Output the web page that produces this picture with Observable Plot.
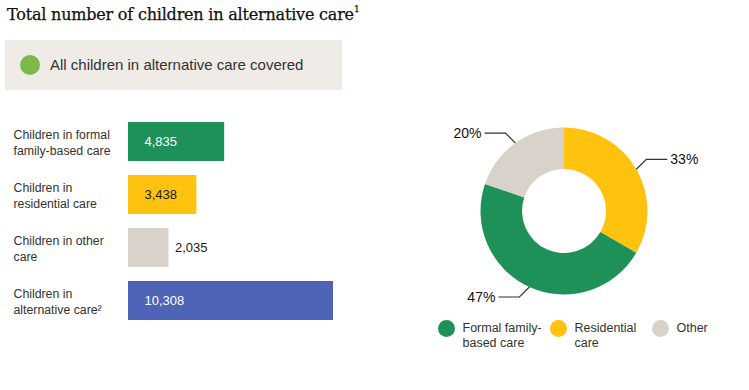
<!DOCTYPE html>
<html><head><meta charset="utf-8">
<script src="https://cdn.jsdelivr.net/npm/d3@7"></script>
<script src="https://cdn.jsdelivr.net/npm/@observablehq/plot@0.6"></script>
<style>
body{margin:0;background:#fff;font-family:"Liberation Sans",Arial,sans-serif;}
#wrap{position:relative;width:749px;height:390px;overflow:hidden;background:#fff;}
#title{position:absolute;left:7px;top:5px;font-family:"DejaVu Serif",serif;font-size:16px;color:#111;white-space:nowrap;letter-spacing:-0.2px;-webkit-text-stroke:0.25px #111;}
#title sup{font-size:9px;vertical-align:top;position:relative;top:-1px;}
#box{position:absolute;left:5px;top:40px;width:337px;height:50px;background:#efebe7;}
#box .dot{position:absolute;left:15px;top:15px;width:20px;height:20px;border-radius:50%;}
#box .txt{position:absolute;left:45px;top:16px;font-size:15px;color:#333;}
#bars{position:absolute;left:0;top:100px;}
#donut{position:absolute;left:390px;top:100px;}
.leg{position:absolute;top:320px;display:flex;align-items:flex-start;font-size:12.5px;line-height:15px;color:#333;}
.leg .d{width:17px;height:17px;border-radius:50%;margin-right:8px;flex:none;}
.leg .t{white-space:pre;margin-top:1px;}
</style></head>
<body>
<div id="wrap">
  <div id="title"></div>
  <div id="box"><div class="dot"></div><div class="txt"></div></div>
  <div id="bars"></div>
  <div id="donut"></div>
  <div id="legend"></div>
</div>
<script>
// ---- data ----
const titleText = "Total number of children in alternative care";
const titleNote = "1";
const coverLabel = "All children in alternative care covered";
const coverColor = "#7cb84a";

const categories = ["Children in formal\nfamily-based care", "Children in\nresidential care", "Children in other\ncare", "Children in\nalternative care²"];
const values = [4835, 3438, 2035, 10308];
const valueLabels = ["4,835", "3,438", "2,035", "10,308"];
const barColors = ["#1e9159", "#ffc20e", "#d9d2ca", "#4f63b6"];
const valueTextColors = ["#ffffff", "#1a1a1a", "#1a1a1a", "#ffffff"];

const sliceNames = ["Residential care", "Formal family-based care", "Other"]; // clockwise from top
const sliceValues = [3438, 4835, 2035];
const sliceLabels = ["33%", "47%", "20%"];
const sliceColors = ["#ffc20e", "#1e9159", "#d9d2ca"];

const legendKeys = ["Formal family-based care", "Residential care", "Other"];
const legendTexts = ["Formal family-\nbased care", "Residential\ncare", "Other"];

// ---- header ----
document.getElementById("title").innerHTML = titleText + "<sup>" + titleNote + "</sup>";
document.querySelector("#box .dot").style.background = coverColor;
document.querySelector("#box .txt").textContent = coverLabel;

// ---- bars ----
const rows = categories.map((c, i) => ({cat: c, value: values[i], label: valueLabels[i], color: barColors[i], tcolor: valueTextColors[i]}));
const inside = d => d.value > 2500;
const bars = Plot.plot({
  width: 400, height: 240,
  marginLeft: 128, marginRight: 67, marginTop: 8, marginBottom: 6,
  x: {domain: [0, 10308], axis: null},
  y: {domain: categories, axis: null, padding: 0.26},
  color: {type: "identity"},
  style: {fontFamily: "'Liberation Sans', Arial, sans-serif", background: "transparent"},
  marks: [
    Plot.barX(rows, {x: "value", y: "cat", fill: "color"}),
    Plot.text(rows, {y: "cat", frameAnchor: "left", dx: -115, text: "cat", textAnchor: "start", lineHeight: 1.25, fontSize: 12.3, fill: "#333"}),
    Plot.text(rows.filter(inside), {x: 0, y: "cat", text: "label", dx: 16, textAnchor: "start", fontSize: 13, fill: "tcolor"}),
    Plot.text(rows.filter(d => !inside(d)), {x: "value", y: "cat", text: "label", dx: 6, textAnchor: "start", fontSize: 13, fill: "tcolor"})
  ]
});
document.getElementById("bars").append(bars);

// ---- donut ----
const slices = sliceNames.map((n, i) => ({name: n, value: sliceValues[i], label: sliceLabels[i]}));
const donut = Plot.plot({
  width: 348, height: 222, margin: 0,
  color: {domain: sliceNames, range: sliceColors},
  style: {fontFamily: "'Liberation Sans', Arial, sans-serif", background: "transparent"},
  marks: [
    Plot.dot(slices, {fill: "name", r: 0}),
    (index, scales, vals, dims) => {
      const cx = dims.width / 2, cy = dims.height / 2;
      const R = 83.5, r = 42;
      const pie = d3.pie().value(d => d.value).sort(null)(slices);
      const arc = d3.arc().innerRadius(r).outerRadius(R);
      const g = d3.create("svg:g").attr("transform", `translate(${cx},${cy})`);
      g.selectAll("path.s").data(pie).join("path").attr("class", "s")
        .attr("d", arc).attr("fill", d => scales.color(d.data.name));
      for (const p of pie) {
        const a = (p.startAngle + p.endAngle) / 2;
        const sx = Math.sin(a), sy = -Math.cos(a);
        const x0 = R * sx, y0 = R * sy;
        const hx = Math.sign(sx), hy = Math.sign(sy);
        const x1 = x0 + hx * 10, y1 = y0 + hy * 10;
        const x2 = x1 + hx * 21;
        g.append("path").attr("d", `M${x0},${y0}L${x1},${y1}L${x2},${y1}`)
          .attr("fill", "none").attr("stroke", "#333").attr("stroke-width", 1.2);
        g.append("text").attr("x", x2 + hx * 3).attr("y", y1).attr("dy", "0.35em")
          .attr("text-anchor", hx > 0 ? "start" : "end")
          .attr("font-size", 14).attr("fill", "#111").text(p.data.label);
      }
      return g.node();
    }
  ]
});
document.getElementById("donut").append(donut);

// ---- legend ----
const legLefts = [437.5, 549.5, 651.5];
const leg = document.getElementById("legend");
legendKeys.forEach((k, i) => {
  const item = document.createElement("div");
  item.className = "leg";
  item.style.left = legLefts[i] + "px";
  const dot = document.createElement("div");
  dot.className = "d";
  dot.style.background = donut.scale("color").apply(k);
  const t = document.createElement("div");
  t.className = "t";
  t.textContent = legendTexts[i];
  item.append(dot, t);
  leg.append(item);
});
</script>
</body></html>
